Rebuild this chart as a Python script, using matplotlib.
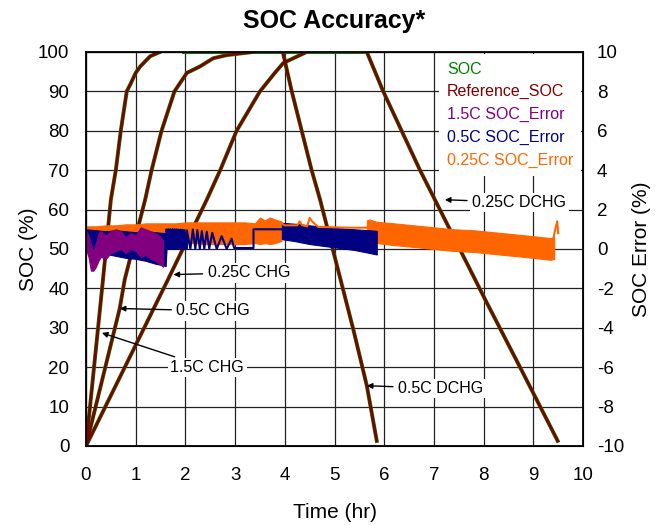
import matplotlib
matplotlib.use("Agg")
from matplotlib import pyplot as plt
from matplotlib.lines import Line2D

plt.rcParams['font.family'] = ['Liberation Sans', 'DejaVu Sans']
plt.rcParams['axes.unicode_minus'] = False

# --- SOC curves (hr, %) ---
chg15_t = [0, 0.17, 0.34, 0.50, 0.60, 0.70, 0.82, 0.90, 1.00, 1.09, 1.29, 1.49]
chg15_soc = [0, 21, 42, 62.5, 70, 80, 90, 92, 94.7, 96.3, 98.9, 100]

chg05_t = [0, 0.68, 0.78, 1.19, 1.32, 1.52, 1.78, 2.03, 2.29, 2.56, 2.83, 3.36]
chg05_soc = [0, 35, 42.3, 62.5, 70, 80, 90, 94.7, 96.3, 98.4, 99.2, 100]

chg025_t = [0, 1.64, 2.43, 2.70, 3.03, 3.50, 3.80, 3.97, 4.17, 4.44]
chg025_soc = [0, 42, 62.5, 70, 80, 90, 94.7, 97.2, 98.4, 100]

dchg05_t = [3.96, 4.14, 4.34, 4.54, 4.71, 5.38, 5.65, 5.85]
dchg05_soc = [100, 90, 80, 70, 62.5, 29.5, 15.3, 1.3]

dchg025_t = [5.65, 5.98, 6.35, 6.72, 7.12, 8.03, 8.72, 9.13, 9.49]
dchg025_soc = [100, 90, 80, 70, 60, 37.2, 20.3, 10.2, 1.3]

rest_t = [1.95, 5.65]
rest_soc = [100, 100]

# --- SOC error (%) ---
# 1.5C: dense band (upper / lower envelope)
err15_t = [0.0, 0.05, 0.1, 0.15, 0.2, 0.25, 0.3, 0.4, 0.5, 0.6, 0.7, 0.8,
           0.9, 1.0, 1.1, 1.2, 1.3, 1.4, 1.5, 1.55]
err15_hi = [0.9, 0.7, 0.2, -0.1, 0.3, 0.8, 0.9, 0.7, 0.9, 1.0, 0.9, 0.6,
            0.8, 0.7, 1.1, 1.0, 0.9, 0.8, 0.6, 0.4]
err15_lo = [0.0, -0.4, -1.1, -1.1, -0.9, -0.6, -0.4, -0.5, -0.2, -0.1, 0.0, -0.2,
            0.0, -0.1, -0.4, -0.3, -0.5, -0.6, -0.8, -0.9]

# 0.5C: band, sawtooth, band
err05a_t = [0, 0.2, 0.4, 0.6, 0.8, 1.0, 1.2, 1.4, 1.6]
err05a_hi = [1.0, 0.95, 0.9, 0.95, 0.9, 0.85, 0.9, 0.85, 0.8]
err05a_lo = [0.0, -0.1, -0.25, -0.35, -0.45, -0.5, -0.6, -0.75, -0.85]

err05b_t = [1.60, 1.62, 1.62, 1.66, 1.66, 1.70, 1.70, 1.74, 1.74, 1.78, 1.78,
            1.82, 1.82, 1.86, 1.86, 1.90, 1.90, 1.94, 1.94, 1.98, 1.98, 2.03,
            2.03, 2.10, 2.15, 2.20, 2.24, 2.29, 2.33, 2.38, 2.43, 2.48, 2.54,
            2.63, 2.73, 2.83, 2.93, 2.98, 3.37, 3.37, 3.94]
err05b = [-0.85, -0.1, 1.0, 0.0, 1.0, 0.0, 1.0, 0.0, 1.0, 0.0, 1.0,
          0.0, 1.0, 0.0, 0.98, 0.0, 0.98, 0.0, 0.97, 0.0, 0.96, 0.0,
          0.95, 0.0, 0.99, 0.0, 0.96, 0.0, 0.91, 0.02, 0.88, 0.02, 0.82,
          0.0, 0.65, 0.0, 0.52, 0.05, 0.05, 1.0, 1.0]

err05c_t = [3.94, 4.2, 4.5, 4.8, 5.1, 5.4, 5.7, 5.85]
err05c_hi = [1.33, 1.28, 1.2, 1.12, 1.05, 1.0, 0.95, 0.92]
err05c_lo = [0.5, 0.4, 0.25, 0.15, 0.05, -0.05, -0.2, -0.28]

# 0.25C: band, thin line, band, end spike
err025a_t = [0.0, 0.2, 0.4, 0.6, 0.8, 1.0, 1.2, 1.4, 1.6, 1.8, 2.0, 2.2, 2.4,
             2.6, 2.8, 3.0, 3.2, 3.4, 3.5, 3.6, 3.7, 3.8, 3.93]
err025a_hi = [1.15, 1.15, 1.2, 1.2, 1.25, 1.25, 1.3, 1.3, 1.3, 1.3, 1.35, 1.35,
              1.35, 1.35, 1.35, 1.35, 1.35, 1.3, 1.6, 1.45, 1.6, 1.5, 1.4]
err025a_lo = [0.4, 0.4, 0.4, 0.35, 0.35, 0.35, 0.35, 0.3, 0.3, 0.35, 0.3, 0.3,
              0.25, 0.25, 0.25, 0.25, 0.25, 0.3, 0.25, 0.3, 0.25, 0.3, 0.4]

err025b_t = [3.93, 4.0, 4.25, 4.3, 4.35, 4.45, 4.5, 4.55, 4.67, 5.0, 5.3, 5.65]
err025b = [1.3, 1.2, 1.2, 1.4, 1.2, 1.15, 1.58, 1.4, 1.12, 1.1, 1.08, 1.08]

err025c_t = [5.65, 5.7, 5.85, 6.2, 6.6, 7.0, 7.4, 7.8, 8.2, 8.6, 9.0, 9.35, 9.42]
err025c_hi = [1.45, 1.5, 1.38, 1.3, 1.2, 1.1, 1.0, 0.95, 0.85, 0.75, 0.65, 0.55, 0.6]
err025c_lo = [0.7, 0.4, 0.3, 0.2, 0.1, 0.0, -0.1, -0.15, -0.25, -0.35, -0.45, -0.55, -0.5]

err025d_t = [9.40, 9.45, 9.48, 9.50]
err025d = [0.5, 1.1, 1.4, 0.8]

green = '#008000'
dred = '#800000'
purple = '#800080'
navy = '#000080'
orange = '#ff6600'

fig = plt.figure(figsize=(6.62, 5.25), dpi=100)
ax = fig.add_axes([0.1299, 0.1505, 0.7508, 0.7505])
ax2 = ax.twinx()

# SOC and reference curves
curves = [(chg15_t, chg15_soc), (chg05_t, chg05_soc), (chg025_t, chg025_soc),
          (dchg05_t, dchg05_soc), (dchg025_t, dchg025_soc)]
ax.plot(rest_t, rest_soc, color=green, lw=2.2, zorder=2)
for t, s in curves:
    ax.plot(t, s, color=green, lw=2.8, zorder=2)
    ax.plot(t, s, color=dred, lw=1.9, zorder=3)

ax.set_xlim(0, 10)
ax.set_ylim(0, 100)
ax.set_xticks(range(0, 11))
ax.set_yticks(range(0, 101, 10))
ax.grid(True, color='#222222', lw=0.9)
ax.set_axisbelow(True)
ax.tick_params(axis='x', length=0, pad=15, labelsize=13.5)
ax.tick_params(axis='y', length=0, pad=12, labelsize=13.5)
for sp in ax.spines.values():
    sp.set_linewidth(1.3)

# error series
ax2.fill_between(err025a_t, err025a_lo, err025a_hi, color=orange, lw=0.8)
ax2.plot(err025b_t, err025b, color=orange, lw=1.5)
ax2.fill_between(err025c_t, err025c_lo, err025c_hi, color=orange, lw=0.8)
ax2.plot(err025d_t, err025d, color=orange, lw=1.5)

ax2.fill_between(err05a_t, err05a_lo, err05a_hi, color=navy, lw=0.8)
ax2.plot(err05b_t, err05b, color=navy, lw=1.5)
ax2.fill_between(err05c_t, err05c_lo, err05c_hi, color=navy, lw=0.8)

ax2.fill_between(err15_t, err15_lo, err15_hi, color=purple, lw=0.8)

ax2.set_ylim(-10, 10)
ax2.set_yticks(range(-10, 11, 2))
ax2.tick_params(axis='y', length=0, pad=10, labelsize=13.5)

# annotations
notes = [("0.25C DCHG", (7.22, 62.5), (7.77, 61.8)),
         ("0.25C CHG", (1.76, 43.5), (2.45, 44.0)),
         ("0.5C CHG", (0.68, 34.9), (1.82, 34.3)),
         ("1.5C CHG", (0.32, 28.7), (1.70, 19.9)),
         ("0.5C DCHG", (5.65, 15.3), (6.28, 14.6))]
for txt, xy, xyt in notes:
    ax.annotate(txt, xy=xy, xytext=xyt, fontsize=11.5, ha='left', va='center',
                bbox=dict(boxstyle='square,pad=0.15', fc='white', ec='none'),
                arrowprops=dict(arrowstyle='-|>', color='black', lw=1.0,
                                mutation_scale=8, shrinkA=2, shrinkB=0),
                zorder=5)

labels = ['SOC', 'Reference_SOC', '1.5C SOC_Error', '0.5C SOC_Error', '0.25C SOC_Error']
colors = [green, dred, purple, navy, orange]
handles = [Line2D([], [], color=c) for c in colors]
leg = ax2.legend(handles, labels, loc='upper right', fontsize=11.5,
                 handlelength=0, handletextpad=0, labelcolor=colors,
                 frameon=True, fancybox=False, framealpha=1, borderaxespad=0.1,
                 borderpad=0.5, labelspacing=0.48)
leg.get_frame().set_edgecolor('none')
leg.get_frame().set_facecolor('white')

ax.set_xlabel('Time (hr)', fontsize=15, labelpad=14)
ax.set_ylabel('SOC (%)', fontsize=15, labelpad=0)
ax2.set_ylabel('SOC Error (%)', fontsize=15, labelpad=6)
ax.set_title('SOC Accuracy*', fontsize=18, fontweight='bold', pad=17)

fig.savefig('out.png', dpi=100)
